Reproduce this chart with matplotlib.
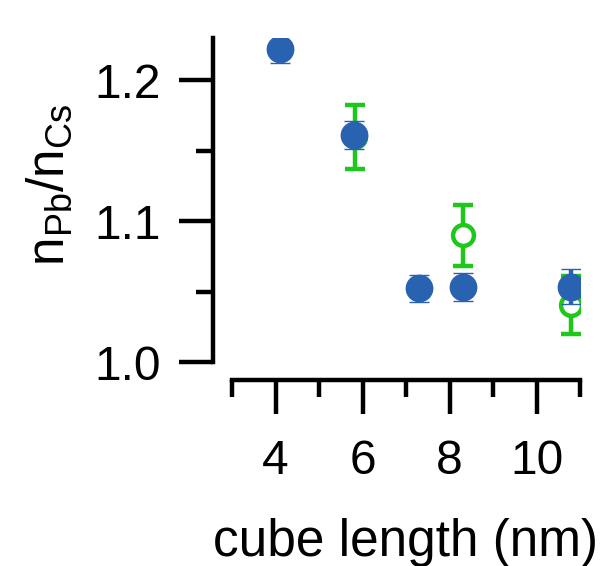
import matplotlib
matplotlib.use("Agg")
import matplotlib.pyplot as plt
from matplotlib.ticker import FixedLocator

# Data
blue_x = [4.10, 5.81, 7.30, 8.32, 10.79]
blue_y = [1.2225, 1.161, 1.0523, 1.0534, 1.0534]
blue_err = [0.010, 0.010, 0.0095, 0.0100, 0.0125]

green_x = [5.83, 8.32, 10.79]
green_y = [1.1596, 1.090, 1.0404]
green_err = [0.0227, 0.0215, 0.0207]

x_major = [4, 6, 8, 10]
x_minor = [3, 5, 7, 9, 11]
y_major = [1.0, 1.1, 1.2]
y_minor = [1.05, 1.15]

BLUE = "#2862b0"
GREEN = "#1ec81a"

plt.rcParams['font.family'] = ['Liberation Sans', 'DejaVu Sans']
plt.rcParams['mathtext.fontset'] = 'custom'
plt.rcParams['mathtext.rm'] = 'Liberation Sans'

W, H = 612, 566
fig = plt.figure(figsize=(W / 100, H / 100), dpi=100)
left, right = 232 / W, 580 / W
bottom, top = (H - 362) / H, (H - 38) / H
ax = fig.add_axes([left, bottom, right - left, top - bottom])

ax.errorbar(green_x, green_y, yerr=green_err, fmt='o', color=GREEN,
            markerfacecolor='white', markeredgecolor=GREEN, markersize=15,
            markeredgewidth=3.2, elinewidth=3.2, capsize=7, capthick=3.2, zorder=2)
ax.errorbar(blue_x, blue_y, yerr=blue_err, fmt='o', color=BLUE,
            markerfacecolor=BLUE, markeredgecolor=BLUE, markersize=19,
            markeredgewidth=1, elinewidth=3.2, capsize=7, capthick=3.2, zorder=3)

ax.set_xlim(3, 11)
ax.set_ylim(1.0, 1.23)

ax.xaxis.set_major_locator(FixedLocator(x_major))
ax.xaxis.set_minor_locator(FixedLocator(x_minor))
ax.yaxis.set_major_locator(FixedLocator(y_major))
ax.yaxis.set_minor_locator(FixedLocator(y_minor))
ax.set_xticklabels([str(v) for v in x_major])
ax.set_yticklabels([f"{v:.1f}" for v in y_major])

for s in ['top', 'right']:
    ax.spines[s].set_visible(False)
ax.spines['left'].set_position(('outward', 13.7))
ax.spines['bottom'].set_position(('outward', 13))
for s in ['left', 'bottom']:
    ax.spines[s].set_linewidth(3.2)
    ax.spines[s].set_capstyle('projecting')

ax.tick_params(axis='both', which='major', length=24.5, width=3.2,
               direction='out', labelsize=34.5, color='black')
ax.tick_params(axis='both', which='minor', length=12.5, width=3.2,
               direction='out', color='black')
ax.tick_params(axis='y', which='major', pad=13)
ax.tick_params(axis='x', which='major', pad=18)

ax.set_xlabel('cube length (nm)', fontsize=37)
ax.xaxis.set_label_coords(0.4986, -0.4815)
ax.set_ylabel(r'$\mathregular{n_{Pb}/n_{Cs}}$', fontsize=37)
ax.yaxis.set_label_coords(-0.451, 0.546)

fig.savefig('out.png', dpi=100)
